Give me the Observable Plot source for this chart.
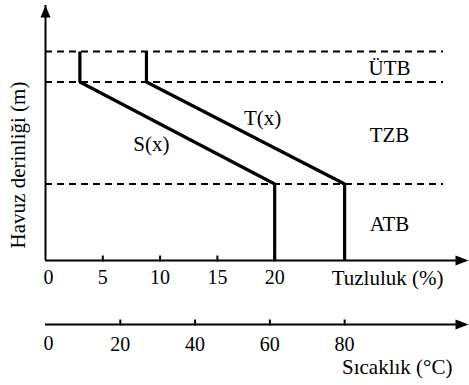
<!DOCTYPE html>
<html>
<head>
<meta charset="utf-8">
<script src="https://cdn.jsdelivr.net/npm/d3@7"></script>
<script src="https://cdn.jsdelivr.net/npm/@observablehq/plot@0.6"></script>
<style>
  html, body { margin: 0; padding: 0; background: #fff; }
  #chart { position: relative; width: 469px; height: 385px; }
  #chart svg { position: absolute; left: 0; top: 0; }
  #chart svg, #chart svg text, #chart svg g { font-family: "Liberation Serif", "Times New Roman", serif !important; }
</style>
</head>
<body>
<div id="chart"></div>
<script>
// ---- data ----
const depth = [2.05, 1.75, 0.75, 0];        // profile depth levels (surface, ÜTB/TZB, TZB/ATB, bottom)
const salinity = [3, 3, 20, 20];            // S(x), %
const temperature = [27, 27, 80, 80];       // T(x), °C
const boundaries = [2.05, 1.75, 0.75];      // dashed zone boundaries
const zones = ["ÜTB", "TZB", "ATB"];
const salinityTicks = [0, 5, 10, 15, 20];
const temperatureTicks = [0, 20, 40, 60, 80];
const depthTop = 2.5;
const salinityMax = 37;
const temperatureMax = 113.4;

const W = 469, H = 385;
const FONT = "Liberation Serif";

const sData = depth.map((y, i) => ({y, v: salinity[i]}));
const tData = depth.map((y, i) => ({y, v: temperature[i]}));
const zoneData = zones.map((name, i) => ({name, y: (depth[i] + depth[i + 1]) / 2}));

const tickUp = {draw(ctx) { ctx.moveTo(0, 1); ctx.lineTo(0, -5); }};
const arrowUp = {draw(ctx) { ctx.moveTo(0, 0); ctx.lineTo(5, 12); ctx.lineTo(-5, 12); ctx.closePath(); }};
const arrowRight = {draw(ctx) { ctx.moveTo(0, 0); ctx.lineTo(-13, 5); ctx.lineTo(-13, -5); ctx.closePath(); }};

const common = {
  width: W, height: H, marginLeft: 45, marginRight: 0, marginTop: 5,
  style: {background: "transparent", fontFamily: FONT, color: "black"}
};
const txt = {fontFamily: FONT, fill: "black"};

// Plot A: salinity scale, depth axis, zones, S(x)
const plotA = Plot.plot({
  ...common,
  marginBottom: 125,
  x: {domain: [0, salinityMax], axis: null},
  y: {domain: [0, depthTop], axis: null},
  marks: [
    Plot.ruleY(boundaries, {stroke: "black", strokeWidth: 2, strokeDasharray: "7,5", insetRight: 26}),
    Plot.line(sData, {x: "v", y: "y", stroke: "black", strokeWidth: 3.2, strokeLinejoin: "miter", strokeLinecap: "butt"}),
    Plot.ruleX([0], {y1: 0, y2: depthTop, stroke: "black", strokeWidth: 2}),
    Plot.dot([0], {x: 0, frameAnchor: "top", symbol: arrowUp, fill: "black", stroke: null}),
    Plot.ruleY([0], {stroke: "black", strokeWidth: 2, insetRight: 4}),
    Plot.dot([0], {y: 0, frameAnchor: "right", dx: -1, symbol: arrowRight, fill: "black", stroke: null}),
    Plot.dot(salinityTicks.filter(d => d > 0), {x: d => d, y: 0, symbol: tickUp, stroke: "black", strokeWidth: 2, fill: "none"}),
    Plot.text(salinityTicks.filter(d => d === 0), {x: d => d, y: 0, text: d => String(d), dy: 17, dx: 3, fontSize: 20, ...txt}),
    Plot.text(salinityTicks.filter(d => d > 0), {x: d => d, y: 0, text: d => String(d), dy: 17, fontSize: 20, ...txt}),
    Plot.text(["Tuzluluk (%)"], {text: d => d, frameAnchor: "bottom-right", textAnchor: "end", dx: -26, dy: 24, fontSize: 21, ...txt}),
    Plot.text(zoneData, {y: "y", text: "name", frameAnchor: "right", textAnchor: "middle", dx: -80, dy: 2, fontSize: 21, ...txt}),
    Plot.text([{v: (salinity[1] + salinity[2]) / 2, y: (depth[1] + depth[2]) / 2}], {x: "v", y: "y", text: () => "S(x)", dx: -26, dy: 11, fontSize: 21, ...txt}),
    Plot.text(["Havuz derinliği (m)"], {text: d => d, frameAnchor: "left", textAnchor: "middle", rotate: -90, dx: -27, dy: 32, fontSize: 21, ...txt})
  ]
});

// Plot B: temperature scale, T(x)
const plotB = Plot.plot({
  ...common,
  marginBottom: 125,
  x: {domain: [0, temperatureMax], axis: null},
  y: {domain: [0, depthTop], axis: null},
  marks: [
    Plot.line(tData, {x: "v", y: "y", stroke: "black", strokeWidth: 3.2, strokeLinejoin: "miter", strokeLinecap: "butt"}),
    Plot.text([{v: (temperature[1] + temperature[2]) / 2, y: (depth[1] + depth[2]) / 2}], {x: "v", y: "y", text: () => "T(x)", dx: 17, dy: -15, fontSize: 21, ...txt})
  ]
});

// Plot C: temperature axis
const plotC = Plot.plot({
  ...common,
  marginBottom: 61,
  x: {domain: [0, temperatureMax], axis: null},
  y: {domain: [0, 1], axis: null},
  marks: [
    Plot.ruleY([0], {stroke: "black", strokeWidth: 2, insetRight: 4}),
    Plot.dot([0], {y: 0, frameAnchor: "right", dx: -1, symbol: arrowRight, fill: "black", stroke: null}),
    Plot.dot(temperatureTicks.filter(d => d > 0), {x: d => d, y: 0, symbol: tickUp, stroke: "black", strokeWidth: 2, fill: "none"}),
    Plot.text(temperatureTicks.filter(d => d === 0), {x: d => d, y: 0, text: d => String(d), dy: 19, dx: 3, fontSize: 20, ...txt}),
    Plot.text(temperatureTicks.filter(d => d > 0), {x: d => d, y: 0, text: d => String(d), dy: 20, fontSize: 20, ...txt}),
    Plot.text(["Sıcaklık (°C)"], {text: d => d, frameAnchor: "bottom-right", textAnchor: "end", dx: -17, dy: 49, fontSize: 21, ...txt})
  ]
});

const chart = document.getElementById("chart");
chart.append(plotA, plotB, plotC);
</script>
</body>
</html>
